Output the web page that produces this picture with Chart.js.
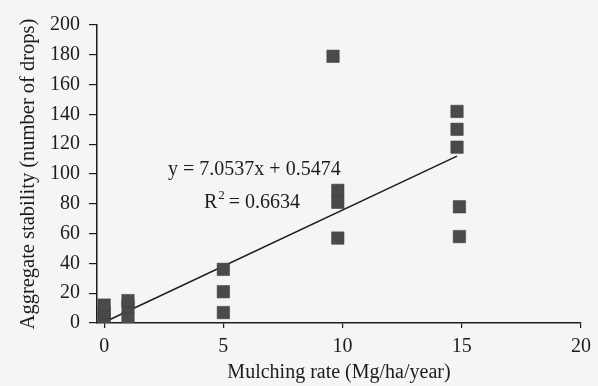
<!DOCTYPE html>
<html>
<head>
<meta charset="utf-8">
<script src="https://cdn.jsdelivr.net/npm/chart.js@4/dist/chart.umd.min.js"></script>
<style>
    html, body { margin: 0; padding: 0; background: #f5f5f3; }
    #wrap { width: 598px; height: 386px; }
</style>
</head>
<body>
<div id="wrap"><canvas id="chart-mulch"></canvas></div>
<script>
// Mulching rate vs aggregate stability
const mulchX = [0, 0, 0, 1, 1, 1, 5, 5, 5, 9.6, 9.8, 9.8, 9.8, 14.8, 14.8, 14.8, 14.9, 14.9];
const stabilityY = [3, 7, 12, 3, 11, 15, 36, 21, 7, 179, 89, 81, 57, 142, 130, 118, 78, 58];
const trendX = [0, 14.8];
const trendY = [0.5, 112];
const xTicks = [0, 5, 10, 15, 20];
const equationText = 'y = 7.0537x + 0.5474';
const r2Text = '0.6634';

const INK = '#1c1c1c';
const FONT = "'Liberation Serif', 'DejaVu Serif', serif";

const points = mulchX.map((x, i) => ({ x, y: stabilityY[i] }));
const trend = trendX.map((x, i) => ({ x, y: trendY[i] }));

// equation + R² written inside the plot, like the book figure
const equationLabel = {
    id: 'equationLabel',
    afterDatasetsDraw(chart) {
        const { ctx, scales } = chart;
        ctx.save();
        ctx.fillStyle = INK;
        ctx.font = `20px ${FONT}`;
        ctx.textAlign = 'center';
        ctx.textBaseline = 'middle';
        ctx.fillText(equationText, scales.x.getPixelForValue(6.3), scales.y.getPixelForValue(103));
        // R² with raised 2
        const cx = scales.x.getPixelForValue(6.2);
        const cy = scales.y.getPixelForValue(81);
        const rest = ' = ' + r2Text;
        const wR = ctx.measureText('R').width;
        ctx.font = `13px ${FONT}`;
        const w2 = ctx.measureText('2').width;
        ctx.font = `20px ${FONT}`;
        const wRest = ctx.measureText(rest).width;
        const x0 = cx - (wR + w2 + wRest) / 2;
        ctx.textAlign = 'left';
        ctx.fillText('R', x0, cy);
        ctx.font = `13px ${FONT}`;
        ctx.fillText('2', x0 + wR + 1, cy - 7);
        ctx.font = `20px ${FONT}`;
        ctx.fillText(rest, x0 + wR + w2, cy);
        ctx.restore();
    }
};

new Chart(document.getElementById('chart-mulch'), {
    type: 'scatter',
    data: {
        datasets: [
            {
                label: 'Observed',
                data: points,
                pointStyle: 'rect',
                pointRadius: 8.8,
                pointHoverRadius: 8.8,
                backgroundColor: '#4a4a4a',
                borderColor: '#3a3a3a',
                borderWidth: 0.5,
                order: 1,
            },
            {
                label: 'Trend',
                type: 'line',
                data: trend,
                borderColor: INK,
                borderWidth: 1.5,
                pointRadius: 0,
                fill: false,
                order: 2,
            },
        ],
    },
    options: {
        responsive: true,
        maintainAspectRatio: false,
        animation: false,
        layout: { padding: { left: 0, right: 3, top: 25, bottom: 0 } },
        plugins: {
            legend: { display: false },
            tooltip: { enabled: false },
        },
        scales: {
            x: {
                type: 'linear',
                min: -0.3,
                max: 20,
                afterBuildTicks: axis => { axis.ticks = xTicks.map(v => ({ value: v })); },
                afterFit: axis => { axis.height = 63; },
                ticks: { color: INK, font: { family: FONT, size: 20 }, padding: 7, maxRotation: 0 },
                grid: { drawOnChartArea: false, drawTicks: true, tickLength: 5, color: INK, lineWidth: 1.2 },
                border: { color: INK, width: 1.5 },
                title: {
                    display: true,
                    text: 'Mulching rate (Mg/ha/year)',
                    color: INK,
                    font: { family: FONT, size: 20 },
                    padding: { top: 1, bottom: 1 },
                },
            },
            y: {
                min: 0,
                max: 200,
                afterFit: axis => { axis.width = 97; },
                ticks: { stepSize: 20, color: INK, font: { family: FONT, size: 20 }, padding: 9 },
                grid: { drawOnChartArea: false, drawTicks: true, tickLength: 8, color: INK, lineWidth: 1.2 },
                border: { color: INK, width: 1.5 },
                title: {
                    display: true,
                    text: 'Aggregate stability (number of drops)',
                    color: INK,
                    font: { family: FONT, size: 20.5 },
                    padding: { top: 16, bottom: 0 },
                },
            },
        },
    },
    plugins: [equationLabel],
});
</script>
</body>
</html>
